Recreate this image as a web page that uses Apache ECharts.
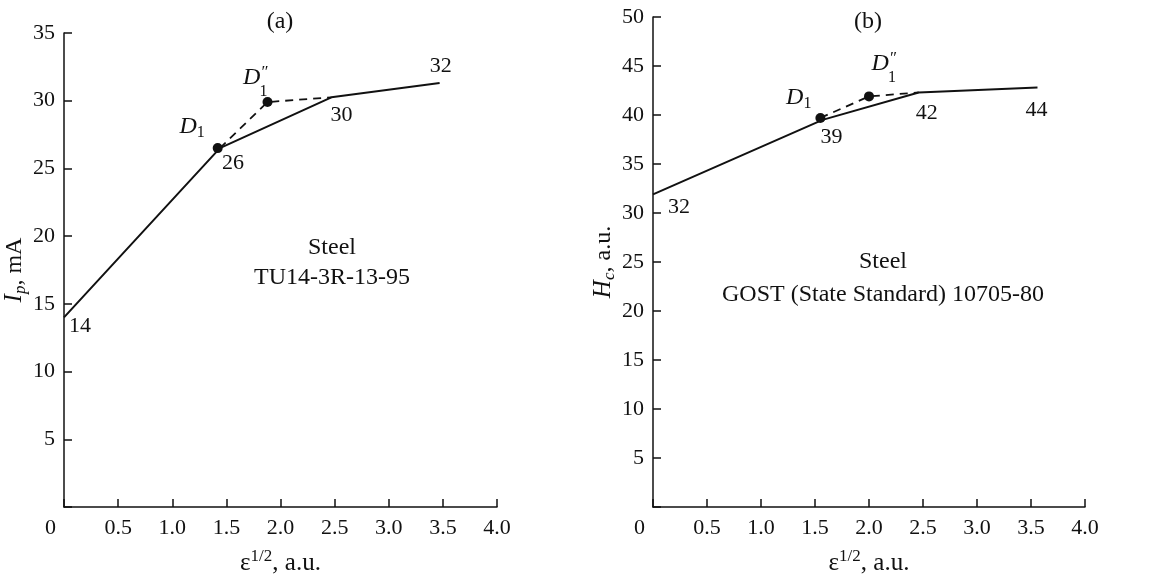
<!DOCTYPE html>
<html>
<head>
<meta charset="utf-8">
<script src="https://cdn.jsdelivr.net/npm/echarts@6/dist/echarts.min.js"></script>
<style>
  html, body { margin: 0; padding: 0; background: #fff; }
  #chart { width: 1175px; height: 576px; }
</style>
</head>
<body>
<div id="chart"></div>
<script>
// panel (a): Ip vs strain
const aLineX = [0, 1.44, 2.47, 3.47];
const aLineY = [14, 26.5, 30.25, 31.3];
const aNotes = ['14', '26', '30', '32'];
const aDashX = [1.44, 1.88, 2.47];
const aDashY = [26.5, 29.9, 30.25];
const aDotX = [1.42, 1.88];
const aDotY = [26.5, 29.9];

// panel (b): Hc vs strain
const bLineX = [0, 1.57, 2.46, 3.56];
const bLineY = [31.9, 39.5, 42.3, 42.8];
const bNotes = ['32', '39', '42', '44'];
const bDashX = [1.55, 2.0, 2.46];
const bDashY = [39.7, 41.9, 42.3];
const bDotX = [1.55, 2.0];
const bDotY = [39.7, 41.9];

const xTickStep = 0.5;

const FONT = 'Liberation Serif';
const INK = '#111';

// label offsets (px), kept apart from the values
const aNoteOff = [[16, 9], [13, 15], [10, 18], [1, -17]];
const bNoteOff = [[26, 13], [9, 17], [8, 21], [-1, 23]];
const aDotOff = [[-13, -21], [1, -24]];
const bDotOff = [[-9, -20], [28, -32]];

const richD = {
    d: { fontFamily: FONT, fontStyle: 'italic', fontSize: 24, color: INK },
    q: { fontFamily: FONT, fontSize: 17, color: INK, padding: [0, 0, 10, 1] },
    s: { fontFamily: FONT, fontSize: 16, color: INK, lineHeight: 1, padding: [0, 1, 0, 0] },
    t: { fontFamily: FONT, fontSize: 16, color: INK, padding: [12, 0, 0, 0] }
};

const makeLine = (xs, ys, notes, offs, idx) => ({
    type: 'line',
    xAxisIndex: idx,
    yAxisIndex: idx,
    data: xs.map((x, i) => ({ value: [x, ys[i]], label: { offset: offs[i] } })),
    symbol: 'circle',
    symbolSize: 1,
    itemStyle: { color: 'rgba(0,0,0,0)' },
    lineStyle: { color: INK, width: 2 },
    label: {
        show: true,
        position: 'inside',
        formatter: p => notes[p.dataIndex],
        fontFamily: FONT,
        fontSize: 22,
        color: INK
    },
    silent: true,
    z: 3
});

const makeDash = (xs, ys, idx) => ({
    type: 'line',
    xAxisIndex: idx,
    yAxisIndex: idx,
    data: xs.map((x, i) => [x, ys[i]]),
    symbol: 'none',
    lineStyle: { color: INK, width: 1.8, type: [8, 6] },
    silent: true,
    z: 2
});

const makeDots = (xs, ys, offs, idx) => ({
    type: 'scatter',
    xAxisIndex: idx,
    yAxisIndex: idx,
    data: xs.map((x, i) => ({ value: [x, ys[i]], label: { offset: offs[i] } })),
    symbolSize: 10,
    itemStyle: { color: INK, opacity: 1 },
    label: {
        show: true,
        position: 'inside',
        align: 'right',
        formatter: p => (p.dataIndex === 0 ? '{d|D}{t|1}' : '{d|D}{q|″}\n{s|1}'),
        rich: richD
    },
    silent: true,
    z: 4
});

const xAxisCfg = idx => ({
    type: 'value',
    gridIndex: idx,
    min: 0,
    max: 4,
    interval: xTickStep,
    axisLine: { show: true, lineStyle: { color: INK, width: 1.5 } },
    axisTick: { show: true, inside: true, length: 8, lineStyle: { color: INK, width: 1.5 } },
    splitLine: { show: false },
    axisLabel: {
        margin: 10,
        fontFamily: FONT,
        fontSize: 22,
        color: INK,
        formatter: v => (v === 0 ? '{z|0}' : v.toFixed(1)),
        rich: { z: { fontFamily: FONT, fontSize: 22, color: INK, padding: [0, 27, 0, 0] } }
    },
    name: '{e|ε}{u|1/2}{n|, a.u.}',
    nameLocation: 'middle',
    nameGap: 41,
    nameTextStyle: {
        rich: {
            e: { fontFamily: FONT, fontSize: 25, color: INK },
            u: { fontFamily: FONT, fontSize: 17, color: INK, padding: [0, 0, 13, 0] },
            n: { fontFamily: FONT, fontSize: 25, color: INK }
        }
    }
});

const yAxisCfg = (idx, max, sym, sub, unit) => ({
    type: 'value',
    gridIndex: idx,
    min: 0,
    max: max,
    interval: 5,
    axisLine: { show: true, lineStyle: { color: INK, width: 1.5 } },
    axisTick: { show: true, inside: true, length: 8, lineStyle: { color: INK, width: 1.5 } },
    splitLine: { show: false },
    axisLabel: {
        margin: 9,
        fontFamily: FONT,
        fontSize: 22,
        color: INK,
        formatter: v => (v === 0 ? '' : String(v))
    },
    name: '{i|' + sym + '}{b|' + sub + '}{n|, ' + unit + '}',
    nameLocation: 'middle',
    nameGap: 33,
    nameRotate: 90,
    nameTextStyle: {
        rich: {
            i: { fontFamily: FONT, fontStyle: 'italic', fontSize: 25, color: INK },
            b: { fontFamily: FONT, fontStyle: 'italic', fontSize: 17, color: INK, padding: [12, 0, 0, 0] },
            n: { fontFamily: FONT, fontSize: 24, color: INK }
        }
    }
});

const txt = (x, y, s) => ({
    type: 'text',
    x: x,
    y: y,
    style: { text: s, fontFamily: FONT, fontSize: 24, fill: INK, align: 'center', verticalAlign: 'middle' }
});

const chart = echarts.init(document.getElementById('chart'));
chart.setOption({
    animation: false,
    backgroundColor: '#fff',
    grid: [
        { left: 64, top: 33, right: 678, bottom: 69, outerBoundsMode: 'none' },
        { left: 653, top: 17, right: 90, bottom: 69, outerBoundsMode: 'none' }
    ],
    xAxis: [xAxisCfg(0), xAxisCfg(1)],
    yAxis: [
        yAxisCfg(0, 35, 'I', 'p', 'mA'),
        yAxisCfg(1, 50, 'H', 'c', 'a.u.')
    ],
    graphic: [
        txt(280, 22, '(a)'),
        txt(332, 248, 'Steel'),
        txt(332, 278, 'TU14-3R-13-95'),
        txt(868, 22, '(b)'),
        txt(883, 262, 'Steel'),
        txt(883, 295, 'GOST (State Standard) 10705-80')
    ],
    series: [
        makeLine(aLineX, aLineY, aNotes, aNoteOff, 0),
        makeDash(aDashX, aDashY, 0),
        makeDots(aDotX, aDotY, aDotOff, 0),
        makeLine(bLineX, bLineY, bNotes, bNoteOff, 1),
        makeDash(bDashX, bDashY, 1),
        makeDots(bDotX, bDotY, bDotOff, 1)
    ]
});
window.addEventListener('resize', () => chart.resize());
</script>
</body>
</html>
